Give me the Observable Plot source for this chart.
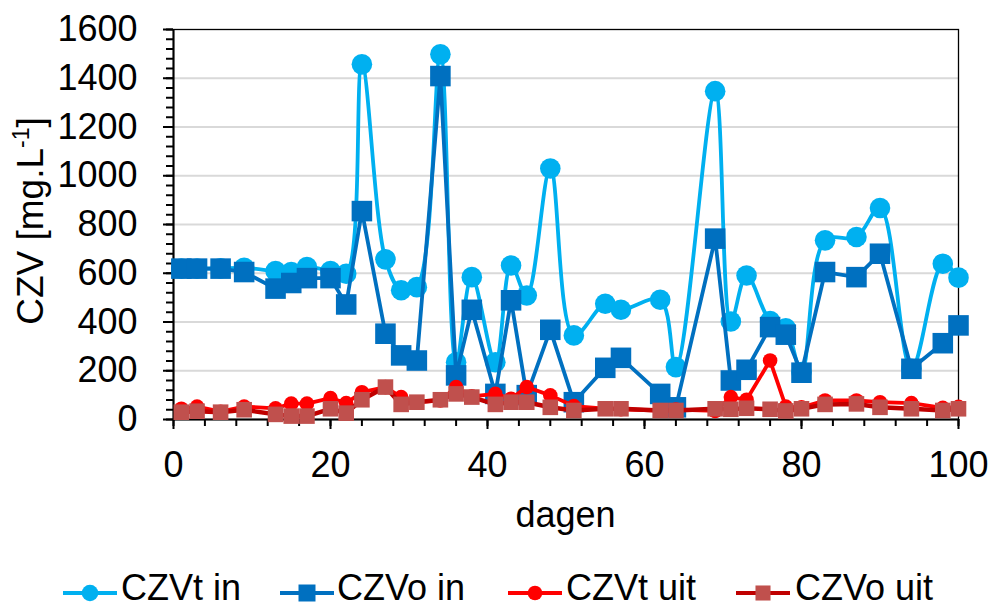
<!DOCTYPE html>
<html><head><meta charset="utf-8">
<script src="https://cdn.jsdelivr.net/npm/d3@7"></script>
<script src="https://cdn.jsdelivr.net/npm/@observablehq/plot@0.6"></script>
<style>
body{margin:0;background:#fff;font-family:"Liberation Sans",Arial,sans-serif;}
#chart{position:relative;width:990px;height:560px;}
#legend{position:relative;width:990px;height:50px;}
.sym{position:absolute;top:21px;}
.lbl{position:absolute;top:10px;font-size:36px;line-height:35px;white-space:nowrap;color:#000;}
</style></head><body>
<div id="chart"></div>
<div id="legend"></div>
<script>
const days = [1,3,6,9,13,15,17,20,22,24,27,29,31,34,36,38,41,43,45,48,51,55,57,62,64,69,71,73,76,78,80,83,87,90,94,98,100];
const czvtIn  = [619,619,620,622,609,605,625,609,598,1457,657,530,543,1498,235,584,235,632,509,1030,345,475,450,491,215,1347,402,591,404,374,195,735,749,868,208,639,582];
const czvoIn  = [619,619,619,605,537,560,580,580,472,855,352,263,242,1409,181,450,105,489,100,368,71,212,253,105,50,742,160,204,379,348,192,605,584,680,208,313,386];
const czvtUit = [44,53,32,53,46,65,65,88,67,112,133,92,71,78,133,95,105,85,133,99,55,45,42,37,41,35,92,81,242,53,50,78,78,71,67,48,52];
const czvoUit = [30,34,30,40,21,14,14,44,26,81,133,62,71,81,105,92,62,71,71,50,37,44,44,37,37,44,42,46,42,35,44,62,64,50,44,37,44];
const seriesNames = ["CZVt in","CZVo in","CZVt uit","CZVo uit"];
const xMajor = [0,20,40,60,80,100];
const xMinor = d3.range(0,101,4);
const yMajor = [0,200,400,600,800,1000,1200,1400,1600];
const yMinor = d3.range(0,1601,40);
const gridVals = [200,400,600,800,1000,1200,1400];

const valueArrays = [czvtIn, czvoIn, czvtUit, czvoUit];
const styles = [
  {line:"#00B0F0", fill:"#00B0F0", symbol:"circle", r:10.3, sw:3.8, curve:"catmull-rom"},
  {line:"#0070C0", fill:"#0070C0", symbol:"square", r:11.6, sw:3.8, curve:"linear"},
  {line:"#FF0000", fill:"#FF0000", symbol:"circle", r:7.3, sw:3.8, curve:"linear"},
  {line:"#C00000", fill:"#C0504D", symbol:"square", r:8.8, sw:4.5, curve:"linear"}
];
const series = seriesNames.map((name,i)=>({name, rows: days.map((d,j)=>({day:d, v:valueArrays[i][j]})), st: styles[i]}));

const seriesMarks = series.flatMap(s => [
  Plot.line(s.rows, {x:"day", y:"v", stroke:s.st.line, strokeWidth:s.st.sw, curve:s.st.curve}),
  Plot.dot(s.rows, {x:"day", y:"v", fill:s.st.fill, stroke:"none", symbol:s.st.symbol, r:s.st.r})
]);

const plot = Plot.plot({
  width: 990, height: 560,
  marginTop: 29, marginBottom: 141, marginLeft: 173, marginRight: 32,
  style: {fontFamily: '"Liberation Sans", Arial, sans-serif', fontSize: "36px", background: "#fff", color: "#000", overflow: "visible"},
  x: {domain: [0,100]},
  y: {domain: [0,1600]},
  marks: [
    Plot.gridY(gridVals, {stroke:"#d9d9d9", strokeWidth:2, strokeOpacity:1}),
    Plot.frame({stroke:"#000", strokeWidth:1.3}),
    Plot.axisX({ticks: xMinor, tickSize: 7, strokeWidth: 2, fill: "none", label: null}),
    Plot.axisX({ticks: xMajor, tickSize: 10, tickPadding: 22, strokeWidth: 2, tickFormat: d => String(d), label: null}),
    Plot.axisY({ticks: yMinor, tickSize: 7, strokeWidth: 2, fill: "none", label: null}),
    Plot.axisY({ticks: yMajor, tickSize: 10, tickPadding: 26, strokeWidth: 2, tickFormat: d => String(d), label: null}),
    Plot.ruleX([0], {stroke:"#000", strokeWidth:2}),
    Plot.ruleY([0], {stroke:"#000", strokeWidth:2}),
    ...seriesMarks
  ]
});
document.getElementById("chart").appendChild(plot);

// Axis titles
const svg = d3.select(plot);
svg.append("text")
  .attr("x", 565.5).attr("y", 527)
  .attr("text-anchor","middle")
  .style("font-size","36px").style("font-family",'"Liberation Sans", Arial, sans-serif')
  .attr("fill","#000")
  .text("dagen");
const yt = svg.append("text")
  .attr("transform","translate(43,221) rotate(-90)")
  .attr("text-anchor","middle")
  .style("font-size","37px").style("font-family",'"Liberation Sans", Arial, sans-serif')
  .attr("fill","#000");
yt.append("tspan").text("CZV [mg.L");
yt.append("tspan").attr("dy",-14).style("font-size","23px").text("-1");
yt.append("tspan").attr("dy",14).text("]");

// Legend
const legend = d3.select("#legend");
const lineLefts = [62, 279, 507, 735];
const textLefts = [121, 337, 566, 795];
const legR = [8.3, 9.6, 7.3, 8.5];
series.forEach((s,i)=>{
  const g = legend.append("svg").attr("class","sym")
    .style("left", lineLefts[i]+"px").attr("width",56).attr("height",24);
  g.append("line").attr("x1",1).attr("x2",55).attr("y1",12).attr("y2",12)
    .attr("stroke", s.st.line).attr("stroke-width",3.8);
  if (s.st.symbol === "circle") {
    g.append("circle").attr("cx",28).attr("cy",12).attr("r",legR[i]).attr("fill",s.st.fill);
  } else {
    const a = legR[i]*1.77;
    g.append("rect").attr("x",28-a/2).attr("y",12-a/2).attr("width",a).attr("height",a).attr("fill",s.st.fill);
  }
  legend.append("div").attr("class","lbl").style("left", textLefts[i]+"px").text(s.name);
});
</script>
</body></html>
